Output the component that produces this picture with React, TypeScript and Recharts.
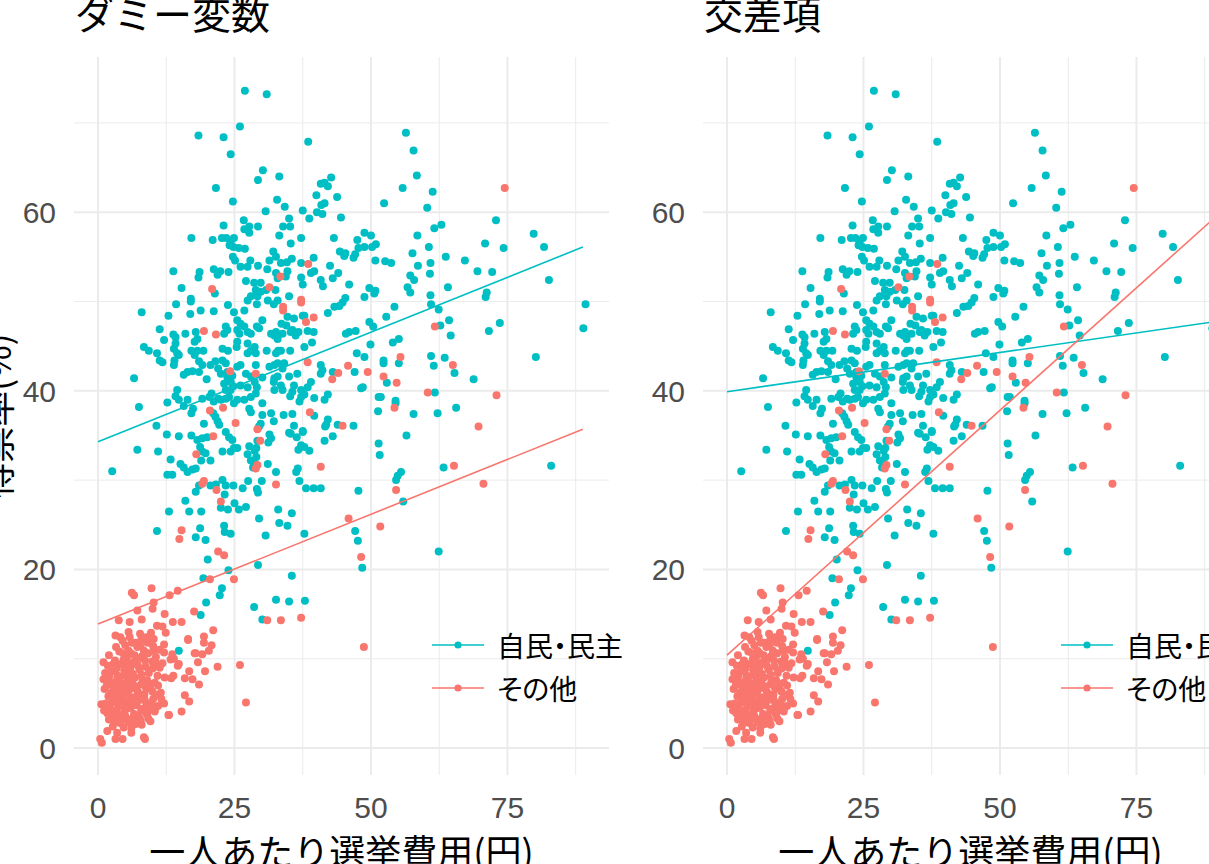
import React from 'react';
import { ScatterChart, Scatter, XAxis, YAxis, ReferenceLine } from 'recharts';

const titles = ['ダミー変数', '交差項'];
const groupNames = ['自民・民主', 'その他'];
const xLabel = '一人あたり選挙費用(円)';
const yLabel = '得票率(%)';

const xTicks = [0, 25, 50, 75];
const xMinor = [12.5, 37.5, 62.5, 87.5];
const yTicks = [0, 20, 40, 60];
const yMinor = [10, 30, 50, 70];

// 自民・民主 (x: 一人あたり選挙費用, y: 得票率)
const ldpDpj: [number, number][] = [
  [26.9, 73.6], [30.9, 73.2], [26.0, 69.6], [18.4, 68.6], [23.0, 68.4], [24.3, 66.5], [38.5, 67.9], [30.2, 64.7],
  [29.3, 63.6], [33.2, 64.0], [21.6, 62.7], [24.7, 61.2], [32.8, 61.4], [34.2, 60.6], [30.7, 60.1], [37.5, 60.2],
  [40.1, 60.0], [41.1, 59.8], [40.8, 63.2], [41.5, 63.3], [42.1, 62.9], [42.7, 63.9], [40.0, 61.9], [41.5, 61.0],
  [40.9, 60.8], [43.8, 61.7], [44.5, 59.4], [38.7, 59.3], [35.0, 59.3], [33.9, 58.4], [35.2, 58.4], [26.7, 59.1],
  [26.8, 58.1], [27.7, 58.4], [27.7, 57.7], [29.3, 58.4], [23.0, 58.5], [17.1, 57.1], [21.0, 56.9], [22.7, 57.1],
  [23.5, 57.1], [24.3, 56.7], [24.9, 57.1], [24.1, 56.3], [24.8, 56.1], [25.8, 56.0], [26.9, 55.9], [33.2, 57.4],
  [35.3, 56.5], [37.2, 57.1], [43.2, 57.1], [44.3, 55.6], [24.7, 55.0], [25.1, 54.6], [26.1, 53.9], [27.4, 53.9],
  [27.9, 54.6], [29.3, 54.0], [32.1, 55.6], [32.6, 55.0], [31.4, 54.6], [33.5, 54.3], [34.6, 54.4], [35.5, 54.8],
  [39.5, 54.9], [37.2, 54.3], [42.5, 54.0], [31.0, 53.6], [32.6, 53.2], [34.7, 53.4], [32.9, 52.6], [34.4, 52.8],
  [37.2, 52.7], [37.5, 51.9], [39.0, 53.2], [39.6, 53.4], [40.8, 52.4], [41.2, 51.7], [43.0, 52.6], [44.0, 53.2],
  [13.8, 53.4], [18.6, 53.3], [18.4, 52.7], [21.2, 53.6], [21.9, 53.0], [22.4, 53.4], [23.9, 53.3], [15.3, 51.5],
  [27.1, 52.3], [28.6, 52.1], [29.8, 52.1], [28.9, 51.3], [29.8, 51.1], [30.8, 51.3], [28.0, 50.6], [29.2, 50.6],
  [32.5, 51.3], [35.0, 50.6], [17.0, 50.3], [21.4, 50.9],
  [56.4, 68.9], [57.8, 66.9], [58.4, 64.1], [55.8, 62.7], [61.3, 62.3], [52.4, 61.0], [60.3, 60.5], [72.9, 59.1],
  [61.6, 58.2], [62.9, 58.6], [58.5, 57.4], [79.8, 57.6], [81.7, 56.1], [70.9, 56.5], [74.3, 56.0], [48.8, 57.7],
  [50.0, 57.4], [47.5, 56.9], [47.7, 56.0], [48.8, 56.1], [50.2, 56.1], [50.9, 56.4], [45.3, 55.4], [45.1, 55.1],
  [46.8, 54.9], [47.1, 55.3], [60.6, 56.1], [57.6, 55.4], [50.8, 54.6], [52.6, 54.5], [53.7, 54.3], [63.7, 55.0],
  [58.6, 54.0], [60.9, 54.3], [60.8, 53.1], [67.2, 54.6], [69.5, 53.4], [72.2, 53.3], [82.6, 52.4], [57.2, 52.9],
  [57.9, 52.4], [46.0, 51.9], [49.7, 51.5], [50.8, 51.2], [50.6, 50.9], [56.7, 51.6], [57.2, 51.0], [60.9, 50.7],
  [64.1, 51.6], [71.2, 51.0], [71.0, 50.5], [48.8, 50.5], [45.3, 50.4],
  [8.0, 48.8], [14.3, 49.7], [17.0, 50.0], [18.8, 49.0], [16.9, 48.6], [21.2, 48.9], [23.8, 49.6], [24.9, 48.8],
  [26.8, 49.0], [27.4, 50.1], [29.1, 49.7], [31.1, 50.1], [32.2, 49.7], [32.9, 50.1], [12.9, 48.4], [34.7, 48.3],
  [35.9, 48.1], [37.5, 48.4], [37.8, 48.4], [34.5, 47.3], [35.6, 46.8], [36.7, 46.6], [33.6, 47.5], [42.1, 48.7],
  [43.3, 49.4], [44.2, 49.5], [11.3, 46.9], [12.1, 45.7], [13.8, 46.3], [14.2, 46.0], [14.2, 45.3], [13.9, 44.7],
  [14.5, 44.2], [13.9, 42.9], [16.0, 46.4], [17.9, 46.6], [18.2, 45.8], [17.7, 45.5], [23.4, 47.2], [23.7, 46.8],
  [23.1, 46.4], [22.8, 44.7], [23.8, 44.5], [25.5, 47.9], [26.1, 47.5], [25.5, 46.8], [26.8, 47.2], [27.4, 46.6],
  [25.9, 46.4], [28.0, 46.4], [29.5, 47.0], [30.1, 47.9], [29.1, 47.2], [31.7, 46.4], [32.6, 46.6], [32.9, 45.8],
  [32.3, 46.2], [33.8, 46.4], [35.3, 46.6], [36.2, 46.2], [38.4, 46.7], [39.5, 46.6], [39.2, 45.4], [37.8, 44.9],
  [35.2, 44.5], [33.5, 44.5], [30.9, 44.5], [32.6, 44.2], [33.0, 44.5], [25.5, 45.5], [25.4, 44.9], [27.4, 45.3],
  [28.0, 44.5], [28.7, 44.9], [27.4, 44.2], [28.9, 44.2], [8.4, 44.9], [9.3, 44.5], [10.8, 44.2], [11.3, 43.4],
  [11.8, 43.2], [14.8, 44.0], [14.0, 43.4], [17.1, 44.5], [18.2, 44.5], [17.7, 44.0], [19.3, 44.5], [18.5, 43.3],
  [19.1, 42.9], [20.6, 42.9], [21.5, 43.3], [22.0, 42.5], [22.8, 43.4], [23.4, 43.1], [22.5, 41.9], [23.7, 42.1],
  [25.5, 42.7], [26.1, 42.9], [28.9, 42.9], [31.4, 42.7], [32.3, 42.9], [32.9, 43.1], [34.1, 43.1], [33.8, 42.5],
  [16.4, 42.1], [17.3, 42.2], [15.7, 41.8], [18.5, 42.1], [19.9, 41.3], [6.6, 41.4], [23.7, 41.5], [24.6, 41.7],
  [24.3, 41.0], [23.1, 40.8], [24.8, 40.5], [23.4, 40.1], [24.3, 40.1], [26.1, 40.6], [27.1, 41.9], [28.0, 41.6],
  [28.7, 41.0], [29.1, 40.4], [27.4, 40.4], [28.9, 39.7], [30.1, 41.5], [32.3, 41.4], [32.9, 41.6], [35.0, 41.6],
  [36.5, 41.9], [32.2, 41.0], [33.5, 40.6], [32.3, 40.1], [33.8, 40.1], [35.9, 40.6], [35.6, 39.9], [37.2, 40.1],
  [38.4, 40.4], [39.0, 41.0], [40.8, 41.9], [43.0, 42.1], [40.8, 42.9], [41.1, 42.3], [35.2, 39.4], [37.2, 39.3],
  [36.9, 38.8], [37.8, 39.6], [39.6, 39.2], [41.5, 39.0], [42.1, 39.6], [14.5, 40.1], [14.2, 39.4], [14.8, 39.0],
  [12.7, 38.7], [16.4, 39.0], [15.7, 38.3], [17.1, 37.5], [17.4, 38.0], [19.1, 39.1], [20.4, 39.3], [20.8, 39.7],
  [21.2, 38.8], [22.0, 39.1], [22.5, 39.0], [23.4, 39.1], [24.0, 39.3], [24.9, 38.6], [25.5, 39.0], [26.8, 39.0],
  [28.0, 39.3], [7.5, 38.2], [27.7, 38.0], [28.0, 37.6], [30.1, 38.6], [21.1, 37.5], [21.5, 37.1], [21.9, 36.6],
  [22.2, 36.2], [19.4, 36.3], [30.1, 37.3], [31.7, 37.5], [32.2, 36.6], [34.0, 37.3], [35.6, 37.4], [29.8, 36.3],
  [29.5, 36.0], [35.9, 36.1], [35.3, 35.2], [36.4, 34.8], [37.5, 35.4], [39.6, 37.2], [42.1, 36.8], [41.6, 36.0],
  [41.8, 36.2], [43.0, 34.9], [43.9, 36.2], [41.5, 34.4], [10.7, 36.1], [12.6, 35.1], [14.8, 34.9], [17.1, 35.0],
  [18.2, 34.5], [19.1, 34.7], [20.0, 34.8], [18.7, 33.7], [19.1, 33.2], [19.7, 33.0], [23.4, 35.4], [24.0, 34.8],
  [24.6, 34.5], [24.9, 33.6], [22.8, 33.2], [24.3, 33.2], [25.5, 33.6], [27.7, 33.8], [27.4, 32.9], [28.7, 33.3],
  [29.0, 33.6], [29.2, 34.4], [31.4, 35.1], [31.7, 34.7], [31.2, 34.2], [35.0, 35.3], [37.5, 35.5], [37.2, 33.9],
  [37.8, 33.7], [38.7, 33.3], [36.7, 33.4], [7.2, 33.4], [11.0, 33.2], [13.3, 32.3], [15.1, 31.8], [15.7, 31.4],
  [16.4, 30.9], [17.3, 31.2], [17.9, 31.3], [18.9, 32.2], [20.6, 32.2], [2.6, 31.0], [12.7, 30.6], [13.6, 30.6],
  [28.0, 32.2], [28.7, 31.8], [28.4, 31.4], [29.0, 32.6], [31.1, 31.8], [32.6, 30.9], [36.6, 31.3], [36.3, 30.9],
  [22.8, 30.0], [21.6, 29.5], [20.6, 29.4], [23.4, 29.4], [24.8, 29.4], [26.5, 29.1], [27.5, 29.9], [30.0, 29.9],
  [29.1, 29.0], [29.3, 28.6], [36.9, 29.9], [38.1, 29.1], [39.5, 29.1], [40.8, 29.1], [17.9, 28.7], [18.5, 29.4],
  [23.2, 28.4], [16.0, 27.7], [22.5, 26.9], [23.8, 26.7], [25.0, 27.4], [25.8, 26.7], [27.1, 27.0], [13.0, 26.5],
  [16.7, 26.5], [18.9, 26.5], [33.0, 26.7], [35.5, 26.3], [29.5, 25.7], [33.2, 25.2], [34.7, 24.9], [10.8, 24.3],
  [18.7, 24.6], [23.1, 24.9], [23.2, 24.2], [24.3, 24.0], [17.9, 23.6], [19.7, 23.3], [30.7, 23.8], [37.8, 24.0],
  [44.8, 49.9], [54.3, 49.4], [61.0, 49.7], [62.4, 49.1], [89.3, 49.7], [52.8, 48.3], [49.7, 47.7], [50.4, 47.2],
  [46.0, 46.6], [47.2, 46.7], [45.4, 46.4], [62.7, 47.3], [64.3, 47.9], [64.6, 46.2], [71.6, 46.7], [73.6, 47.6],
  [88.9, 47.0], [54.0, 45.4], [55.1, 45.8], [49.9, 45.2], [47.4, 44.2], [48.8, 43.8], [47.0, 42.1], [52.3, 43.4],
  [52.3, 43.1], [55.1, 43.1], [52.9, 40.9], [61.0, 43.9], [61.5, 42.8], [63.5, 43.7], [65.3, 42.0], [68.8, 41.3],
  [80.2, 43.8], [48.2, 40.3], [48.5, 40.4], [51.4, 39.3], [51.8, 39.3], [54.5, 38.9], [54.5, 38.6], [51.3, 37.7],
  [61.7, 39.8], [57.8, 37.4], [62.2, 37.5], [65.6, 38.1], [46.8, 36.1], [56.5, 35.0], [51.4, 34.1], [51.6, 32.8],
  [63.3, 31.4], [54.6, 30.0], [54.9, 30.5], [55.5, 30.9], [47.7, 28.8], [55.9, 27.6], [83.0, 31.6], [47.1, 24.3],
  [47.6, 23.2],
  [20.1, 21.1], [23.9, 19.9], [29.3, 20.5], [35.5, 19.3], [19.3, 19.0], [22.7, 17.9], [22.3, 17.1], [19.8, 16.3],
  [18.8, 14.9], [28.6, 15.8], [30.1, 14.4], [32.6, 16.6], [35.0, 16.4], [37.9, 16.5], [14.8, 10.9], [48.4, 20.2],
  [62.4, 22.0],
];

// その他
const others: [number, number][] = [
  [20.9, 51.4], [31.4, 51.6], [38.5, 54.2], [33.4, 52.8], [37.2, 50.2], [74.5, 62.7],
  [19.4, 46.7], [21.6, 46.3], [33.9, 49.4], [33.9, 49.0], [37.2, 49.9], [38.1, 47.7], [39.5, 48.2], [38.4, 43.2],
  [24.2, 42.2], [28.9, 41.9], [42.9, 41.3], [44.0, 42.0], [22.9, 38.1], [20.5, 37.8], [25.2, 36.4], [38.8, 37.6],
  [29.2, 35.7], [21.1, 34.9], [29.7, 34.4], [18.0, 32.9], [29.2, 31.7], [28.9, 31.3], [40.8, 31.5], [19.4, 29.9],
  [19.1, 29.6], [21.7, 28.9], [32.6, 29.5], [22.5, 27.6], [15.3, 24.4], [14.9, 23.4],
  [61.7, 47.2], [55.4, 43.8], [45.8, 42.8], [49.4, 42.1], [52.3, 41.6], [54.7, 40.9], [65.0, 42.9], [60.4, 39.8],
  [54.3, 38.1], [73.0, 39.5], [69.7, 36.0], [44.8, 36.1], [65.2, 31.6], [70.6, 29.6], [54.6, 28.9], [45.9, 25.7],
  [51.7, 24.8], [48.7, 11.3], [48.2, 21.4],
  [22.0, 22.0], [23.1, 21.6], [20.5, 18.9], [24.9, 18.9], [9.8, 17.9], [6.2, 17.4], [6.6, 17.1], [13.1, 17.1],
  [14.6, 17.6], [10.2, 16.3], [10.0, 15.6], [7.2, 15.4], [12.2, 15.0], [17.6, 15.3], [3.8, 14.3], [5.8, 14.1],
  [8.0, 14.4], [13.7, 14.1], [15.3, 14.1], [31.0, 14.3], [33.5, 14.3], [37.2, 14.6], [21.1, 13.2], [19.4, 12.5],
  [19.4, 11.8], [16.5, 12.2], [20.8, 11.5], [20.3, 10.9], [3.2, 12.6], [4.1, 12.4], [5.6, 13.0], [7.7, 12.8],
  [9.6, 12.6], [10.8, 13.7], [11.8, 13.6], [12.4, 12.9], [10.2, 12.2], [12.1, 11.6], [6.2, 11.8], [7.8, 11.4],
  [10.2, 10.9], [12.1, 10.7], [13.6, 10.5], [13.9, 10.0], [13.3, 9.9], [17.9, 10.6], [19.1, 10.5], [1.0, 9.6],
  [1.0, 7.7], [14.8, 9.4], [18.3, 9.6], [21.9, 9.1], [19.6, 8.6], [26.0, 9.3], [16.7, 8.6], [13.8, 8.1],
  [13.4, 7.8], [15.9, 7.8], [17.3, 7.7], [18.5, 7.1], [15.9, 5.9], [16.7, 5.2], [13.0, 3.7], [15.3, 4.1],
  [27.1, 5.1], [0.6, 4.9], [1.7, 3.9], [2.9, 3.2], [4.1, 2.8], [4.7, 2.3], [3.5, 1.7], [1.7, 1.9],
  [0.4, 1.0], [0.7, 0.6], [3.2, 1.0], [4.5, 1.0], [6.1, 1.7], [8.6, 1.0], [9.6, 3.0], [10.5, 4.5],
  [12.1, 5.0], [16.5, 12.1], [17.7, 10.6], [14.6, 9.2], [8.4, 1.2], [12.9, 3.7],
  [1.8, 9.2], [2.5, 8.6], [3.1, 9.8], [3.6, 8.1], [4.2, 9.4], [4.8, 8.7], [5.3, 10.1], [5.9, 9.0],
  [6.4, 8.3], [7.0, 9.6], [7.6, 8.8], [8.1, 10.3], [8.7, 9.1], [9.3, 8.4], [9.9, 9.7], [2.2, 7.4],
  [2.9, 6.8], [3.5, 7.7], [4.0, 6.5], [4.6, 7.2], [5.1, 6.1], [5.7, 7.5], [6.2, 6.7], [6.8, 7.9],
  [7.3, 6.3], [7.9, 7.1], [8.5, 6.0], [9.0, 7.6], [9.6, 6.6], [10.4, 7.3], [1.9, 5.8], [2.6, 5.1],
  [3.2, 6.0], [3.8, 4.7], [4.4, 5.5], [4.9, 4.3], [5.5, 5.2], [6.0, 4.5], [6.6, 5.7], [7.1, 4.8],
  [7.7, 5.4], [8.3, 4.4], [8.8, 5.1], [9.4, 4.6], [10.1, 5.5], [11.0, 4.7], [2.4, 3.9], [3.0, 3.4],
  [3.7, 3.8], [4.3, 3.1], [5.0, 3.6], [5.6, 2.9], [6.3, 3.3], [6.9, 2.7], [7.5, 3.5], [8.0, 2.6],
  [1.2, 6.6], [1.1, 4.2], [2.0, 10.4], [3.9, 10.8], [5.0, 11.5], [6.0, 10.6], [7.2, 11.3], [8.4, 10.9],
  [9.1, 11.8], [10.6, 10.2], [11.3, 9.0], [10.9, 8.1], [11.5, 6.2], [12.2, 7.9], [4.5, 12.0], [5.2, 8.0],
  [6.5, 9.6], [3.3, 5.3], [7.4, 10.0], [8.9, 3.8], [6.1, 2.2], [2.7, 2.4], [5.8, 12.4], [9.7, 12.9],
  [2.1, 8.1], [2.8, 9.4], [3.4, 8.9], [4.1, 8.0], [4.7, 9.9], [5.4, 9.4], [6.0, 8.5], [6.7, 10.4],
  [7.3, 9.2], [8.0, 8.2], [8.6, 9.8], [9.2, 10.6], [10.0, 8.9], [10.5, 9.6], [1.6, 7.0], [2.4, 6.2],
  [3.0, 7.3], [3.7, 6.9], [4.3, 6.0], [5.0, 6.8], [5.6, 6.4], [6.3, 7.3], [7.0, 6.9], [7.6, 6.0],
  [8.2, 7.6], [8.8, 6.7], [9.4, 7.2], [10.0, 6.3], [10.7, 5.9], [2.1, 4.6], [2.8, 5.6], [3.4, 4.3],
  [4.0, 5.3], [4.6, 4.8], [5.3, 4.4], [5.9, 5.6], [6.5, 4.9], [7.2, 5.8], [7.9, 4.2], [8.5, 5.5],
  [9.1, 4.0], [9.8, 5.0], [10.4, 4.1], [2.0, 3.2], [3.5, 2.9], [4.8, 3.4], [6.6, 3.8], [7.8, 3.1],
  [9.2, 3.3], [4.6, 10.6], [5.6, 10.9], [6.8, 11.8], [7.9, 12.1], [8.8, 12.4], [3.3, 11.3], [10.1, 11.4],
  [11.3, 11.0], [11.8, 9.5], [11.0, 7.0], [11.6, 5.5], [1.4, 5.0], [1.3, 8.4],
];

// 回帰直線の両端 (ダミー変数モデル / 交差項モデル)
const dummyFitLdp: [number, number][] = [[0, 34.3], [88.8, 56.1]];
const dummyFitOther: [number, number][] = [[0, 13.9], [88.8, 35.7]];
const interFitLdp: [number, number][] = [[0, 39.9], [88.8, 47.7]];
const interFitOther: [number, number][] = [[0, 10.4], [88.8, 59.1]];

const colors = ['#00BFC4', '#F8766D'];
const GRID = '#EBEBEB';
const JP = '"Noto Sans CJK JP", "Noto Sans", sans-serif';
const NUM = '"Liberation Sans", Arial, sans-serif';

const toPts = (arr: [number, number][]) => arr.map(([x, y]) => ({ x, y }));

const XTick = ({ x, payload }: any) => (
  <text x={x} y={818} textAnchor="middle" fill="#4D4D4D" fontSize={30} fontFamily={NUM}>
    {payload.value}
  </text>
);

const YTick = ({ y, payload }: any) => (
  <text x={56} y={y + 11} textAnchor="end" fill="#4D4D4D" fontSize={30} fontFamily={NUM}>
    {payload.value}
  </text>
);

const dot = (color: string) => (props: any) => <circle cx={props.cx} cy={props.cy} r={4} fill={color} />;
const noDot = () => <g />;

const Panel = ({ left, title, fits, showYLabel }: {
  left: number; title: string; fits: [number, number][][]; showYLabel: boolean;
}) => (
  <div style={{ position: 'absolute', left, top: 0, width: 629, height: 864 }}>
    <ScatterChart width={629} height={864} margin={{ top: 57, right: 20, bottom: 0, left: 0 }}>
      <XAxis type="number" dataKey="x" domain={[-4.4, 93.6]} ticks={xTicks} axisLine={false} tickLine={false}
        height={89} tick={<XTick />} interval={0} />
      <YAxis type="number" dataKey="y" domain={[-3.02, 77.38]} ticks={yTicks} axisLine={false} tickLine={false}
        width={74} tick={<YTick />} interval={0} />
      {xMinor.map((v) => <ReferenceLine key={'xm' + v} x={v} stroke={GRID} strokeWidth={1} />)}
      {yMinor.map((v) => <ReferenceLine key={'ym' + v} y={v} stroke={GRID} strokeWidth={1} />)}
      {xTicks.map((v) => <ReferenceLine key={'xj' + v} x={v} stroke={GRID} strokeWidth={2} />)}
      {yTicks.map((v) => <ReferenceLine key={'yj' + v} y={v} stroke={GRID} strokeWidth={2} />)}
      <Scatter data={toPts(ldpDpj)} shape={dot(colors[0])} isAnimationActive={false} />
      <Scatter data={toPts(others)} shape={dot(colors[1])} isAnimationActive={false} />
      <Scatter data={toPts(fits[0])} line={{ stroke: colors[0], strokeWidth: 1.6 }} shape={noDot} isAnimationActive={false} />
      <Scatter data={toPts(fits[1])} line={{ stroke: colors[1], strokeWidth: 1.6 }} shape={noDot} isAnimationActive={false} />
    </ScatterChart>
    <svg width={629} height={864} style={{ position: 'absolute', left: 0, top: 0, pointerEvents: 'none' }}>
      <text x={75} y={29} fontSize={39} fontFamily={JP} fill="#000">{title}</text>
      <text x={341.5} y={866} fontSize={36} fontFamily={JP} fill="#000" textAnchor="middle">{xLabel}</text>
      {showYLabel && (
        <text x={-5} y={416} fontSize={36} fontFamily={JP} fill="#000" textAnchor="middle" dominantBaseline="central"
          transform="rotate(-90, -5, 416)">{yLabel}</text>
      )}
    </svg>
    <div style={{ position: 'absolute', left: 432, top: 623, fontFamily: JP, fontSize: 28, color: '#000' }}>
      {groupNames.map((name, i) => (
        <div key={name} style={{ display: 'flex', alignItems: 'center', height: 43, whiteSpace: 'nowrap' }}>
          <svg width={52} height={20}>
            <line x1={0} y1={10} x2={52} y2={10} stroke={colors[i]} strokeWidth={1.6} />
            <circle cx={26} cy={10} r={3.6} fill={colors[i]} />
          </svg>
          <span style={{ marginLeft: 13, fontFeatureSettings: '"palt"' }}>{name}</span>
        </div>
      ))}
    </div>
  </div>
);

export default function App() {
  return (
    <div style={{ position: 'fixed', left: 0, top: 0, width: 1209, height: 864, overflow: 'hidden', background: '#fff' }}>
      <Panel left={0} title={titles[0]} fits={[dummyFitLdp, dummyFitOther]} showYLabel={true} />
      <Panel left={629} title={titles[1]} fits={[interFitLdp, interFitOther]} showYLabel={false} />
    </div>
  );
}
